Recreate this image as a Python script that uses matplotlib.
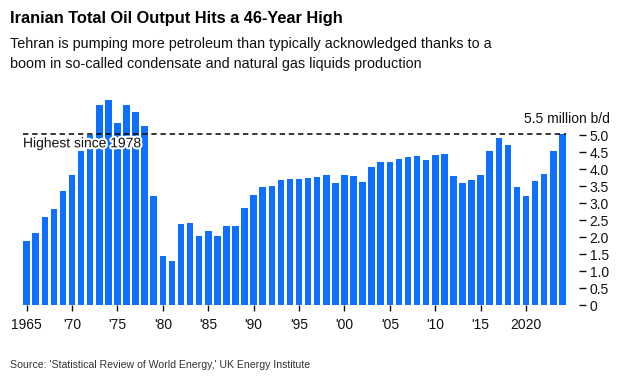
import matplotlib
matplotlib.use("Agg")
import matplotlib.pyplot as plt
import matplotlib.patheffects as pe

years = list(range(1965, 2025))
output = [1.89, 2.12, 2.59, 2.82, 3.36, 3.82, 4.55, 5.02, 5.88, 6.03,
          5.37, 5.89, 5.69, 5.27, 3.21, 1.46, 1.30, 2.38, 2.43, 2.03,
          2.19, 2.03, 2.32, 2.32, 2.87, 3.25, 3.48, 3.50, 3.69, 3.71,
          3.72, 3.75, 3.76, 3.84, 3.59, 3.84, 3.81, 3.62, 4.08, 4.22,
          4.22, 4.29, 4.35, 4.40, 4.27, 4.41, 4.44, 3.79, 3.59, 3.69,
          3.84, 4.55, 4.91, 4.72, 3.48, 3.21, 3.67, 3.86, 4.55, 5.05]
xtick_years = [1965, 1970, 1975, 1980, 1985, 1990, 1995, 2000, 2005, 2010, 2015, 2020]
xtick_labels = ["1965", "'70", "'75", "'80", "'85", "'90", "'95", "'00", "'05", "'10", "'15", "2020"]
ytick_vals = [0, 0.5, 1.0, 1.5, 2.0, 2.5, 3.0, 3.5, 4.0, 4.5, 5.0]
ytick_labels = ["0", "0.5", "1.0", "1.5", "2.0", "2.5", "3.0", "3.5", "4.0", "4.5", "5.0"]
unit_label = "5.5 million b/d"
high_label = "Highest since 1978"

plt.rcParams['font.family'] = ['Liberation Sans', 'DejaVu Sans']

W, H = 624, 380
fig = plt.figure(figsize=(W / 100, H / 100), dpi=100)
ax_left, ax_right = 23, 566
ax_bottom = 305.3
ymax = 6.2
px_per_unit = 34.0
ax_top = ax_bottom - ymax * px_per_unit
ax = fig.add_axes([ax_left / W, (H - ax_bottom) / H, (ax_right - ax_left) / W,
                   (ax_bottom - ax_top) / H])

blue = '#0f6fff'
ax.bar(years, output, width=0.72, color=blue, zorder=2)
ax.set_xlim(1964.6, 2024.4)
ax.set_ylim(0, ymax)

# dashed reference line at latest value
latest = output[-1]
ax.plot([1964.6, 2024.4], [latest, latest], color='black', lw=1.1,
        ls=(0, (3.5, 2.5)), zorder=3, clip_on=False)
ax.text(1964.6, latest - 0.08, high_label, ha='left', va='top', fontsize=10,
        color='#111111', zorder=4,
        path_effects=[pe.withStroke(linewidth=3, foreground='white')])

for s in ['top', 'left', 'bottom']:
    ax.spines[s].set_visible(False)
ax.spines['right'].set_position(('outward', 9))
ax.spines['right'].set_color('none')

ax.yaxis.tick_right()
ax.set_yticks(ytick_vals)
ax.set_yticklabels(ytick_labels)
ax.tick_params(axis='y', length=5, width=1, pad=3, labelsize=10, colors='#111111')

ax.set_xticks(xtick_years)
ax.set_xticklabels(xtick_labels)
ax.tick_params(axis='x', length=4, width=1, pad=5, labelsize=10, colors='#111111')

fig.text(610 / W, 1 - 119 / H, unit_label, ha='right', va='center', fontsize=10,
         color='#111111')

fig.text(10 / W, 1 - 18 / H, "Iranian Total Oil Output Hits a 46-Year High",
         ha='left', va='center', fontsize=11.8, fontweight='bold', color='black')
fig.text(10 / W, 1 - 44 / H,
         "Tehran is pumping more petroleum than typically acknowledged thanks to a",
         ha='left', va='center', fontsize=10.4, color='#111111')
fig.text(10 / W, 1 - 64 / H,
         "boom in so-called condensate and natural gas liquids production",
         ha='left', va='center', fontsize=10.4, color='#111111')
fig.text(10 / W, 1 - 365 / H,
         "Source: 'Statistical Review of World Energy,' UK Energy Institute",
         ha='left', va='center', fontsize=7.55, color='#333333')

fig.savefig('out.png', dpi=100, facecolor='white')
